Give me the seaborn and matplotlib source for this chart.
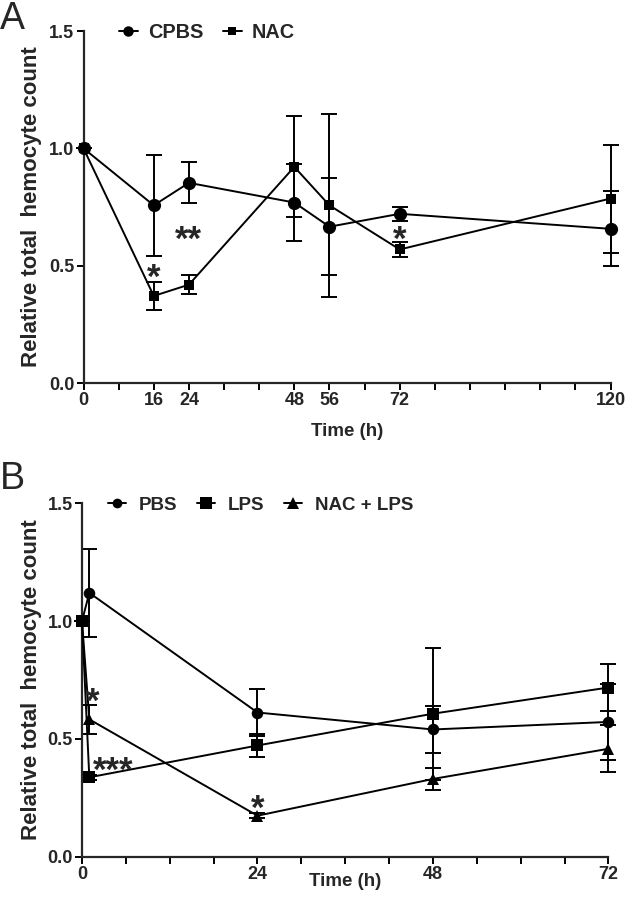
import matplotlib
matplotlib.use("Agg")
import matplotlib.pyplot as plt
import seaborn as sns
import pandas as pd
from matplotlib.lines import Line2D

sns.set_style("ticks")
FONT = ['Liberation Sans', 'DejaVu Sans']
plt.rcParams['font.family'] = FONT

# ---------- Panel A data ----------
a_time = [0, 16, 24, 48, 56, 72, 120]
a_cpbs = [1.0, 0.757, 0.853, 0.769, 0.666, 0.721, 0.657]
a_cpbs_err = [0.0, 0.215, 0.088, 0.166, 0.207, 0.03, 0.16]
a_nac = [1.0, 0.371, 0.419, 0.921, 0.757, 0.569, 0.786]
a_nac_err = [0.0, 0.058, 0.04, 0.215, 0.39, 0.03, 0.23]
a_xticklabels = {0: "0", 16: "16", 24: "24", 48: "48", 56: "56", 72: "72", 120: "120"}

# ---------- Panel B data ----------
b_time = [0, 1, 24, 48, 72]
b_pbs = [1.0, 1.12, 0.612, 0.54, 0.572]
b_pbs_err = [0.0, 0.186, 0.10, 0.10, 0.16]
b_lps = [1.0, 0.337, 0.472, 0.607, 0.718]
b_lps_err = [0.0, 0.01, 0.047, 0.28, 0.10]
b_naclps = [1.0, 0.583, 0.174, 0.33, 0.458]
b_naclps_err = [0.0, 0.062, 0.01, 0.045, 0.10]
b_xticklabels = {0: "0", 24: "24", 48: "48", 72: "72"}

W, H = 633, 902
fig = plt.figure(figsize=(W / 100, H / 100), dpi=100)
A_box = (83.5, 610.5, 31, 383)      # left, right, top, bottom in pixels
B_box = (82.0, 608.4, 503.3, 856.7)
axA = fig.add_axes([A_box[0]/W, 1-A_box[3]/H, (A_box[1]-A_box[0])/W, (A_box[3]-A_box[2])/H])
axB = fig.add_axes([B_box[0]/W, 1-B_box[3]/H, (B_box[1]-B_box[0])/W, (B_box[3]-B_box[2])/H])

tick_kw = dict(fontsize=13, fontweight='bold', family=FONT)


def draw(ax, t, series, names, markers, sizes):
    rows = []
    for name, (vals, errs) in zip(names, series):
        for ti, v, e in zip(t, vals, errs):
            rows.append(dict(time=ti, value=v, err=e, group=name))
    df = pd.DataFrame(rows)
    sns.lineplot(data=df, x="time", y="value", hue="group", style="group",
                 markers=dict(zip(names, markers)), dashes=False,
                 palette=dict((n, "black") for n in names), ax=ax,
                 legend=False, linewidth=1.4, markeredgewidth=0,
                 errorbar=None, sort=False, zorder=3)
    for name in names:
        sub = df[df.group == name]
        ax.errorbar(sub.time, sub.value, yerr=sub.err, fmt='none', ecolor='black',
                    elinewidth=1.4, capsize=5.6, capthick=1.4, clip_on=False, zorder=2)
    for ln, s in zip(ax.lines[:len(names)], sizes):
        ln.set_markersize(s)
        ln.set_clip_on(False)


draw(axA, a_time, [(a_cpbs, a_cpbs_err), (a_nac, a_nac_err)], ["CPBS", "NAC"],
     ["o", "s"], [9.5, 7.5])
draw(axB, b_time, [(b_pbs, b_pbs_err), (b_lps, b_lps_err), (b_naclps, b_naclps_err)],
     ["PBS", "LPS", "NAC + LPS"], ["o", "s", "^"], [8.3, 8.5, 9])

for ax, xmax, step, labels in [(axA, 120, 8, a_xticklabels), (axB, 72, 6, b_xticklabels)]:
    ax.set_xlim(0, xmax)
    ax.set_ylim(0, 1.5)
    ticks = sorted(set(list(range(0, xmax + 1, step)) + list(labels)))
    ax.set_xticks(ticks)
    ax.set_xticklabels([labels.get(k, "") for k in ticks], **tick_kw)
    ax.set_yticks([0, 0.5, 1.0, 1.5])
    ax.set_yticklabels(["0.0", "0.5", "1.0", "1.5"], **tick_kw)
    sns.despine(ax=ax)
    for sp in ["left", "bottom"]:
        ax.spines[sp].set_linewidth(1.6)
    ax.tick_params(axis='both', width=1.4, length=5, color='black', pad=1.5)
    ax.set_ylabel("Relative total  hemocyte count", fontsize=16, fontweight='bold', family=FONT,
                  va='center')
    ax.set_xlabel("Time (h)", fontsize=13.5, fontweight='bold', family=FONT, va='center')

for ax, box, xl_y in [(axA, A_box, 431), (axB, B_box, 881)]:
    wpx = box[1] - box[0]
    hpx = box[3] - box[2]
    ax.yaxis.set_label_coords((32 - box[0]) / wpx, 0.5)
    ax.xaxis.set_label_coords(0.5, (box[3] - xl_y) / hpx)


def leg(ax, box, names, markers, sizes, x_start, y_center, fs, tpad, cspace):
    handles = [Line2D([], [], color='black', marker=m, markersize=s, lw=1.4, markeredgewidth=0)
               for m, s in zip(markers, sizes)]
    wpx = box[1] - box[0]
    hpx = box[3] - box[2]
    ax.legend(handles, names, loc='center left',
              bbox_to_anchor=((x_start - box[0]) / wpx, (box[3] - y_center) / hpx),
              ncol=len(names), frameon=False, handlelength=0.95, handletextpad=tpad,
              columnspacing=cspace, prop=dict(family=FONT, weight='bold', size=fs),
              borderaxespad=0, borderpad=0)

leg(axA, A_box, ["CPBS", "NAC"], ["o", "s"], [7.5, 6], 119, 32, 14.3, 0.5, 1.0)
leg(axB, B_box, ["PBS", "LPS", "NAC + LPS"], ["o", "s", "^"], [7, 8, 8], 108, 505, 13.5, 0.7, 1.05)

star_kw = dict(fontsize=25, fontweight='bold', ha='center', va='center', family=FONT)
# asterisks sit high in the glyph box; shift text anchor down so star centres on target
def star(ax, x, y, s):
    ax.annotate(s, (x, y), xytext=(0, -7), textcoords='offset points', **star_kw)

star(axA, 16, 0.489, "*")
star(axA, 24, 0.65, "**")
star(axA, 72, 0.65, "*")
star(axB, 1.5, 0.695, "*")
star(axB, 4.3, 0.402, "***")
star(axB, 24, 0.242, "*")

fig.text(0.0, 1 - 1/H, "A", fontsize=27, va='top', ha='left', family=FONT)
fig.text(0.0, 1 - 461/H, "B", fontsize=27, va='top', ha='left', family=FONT)

fig.savefig("out.png", dpi=100)
